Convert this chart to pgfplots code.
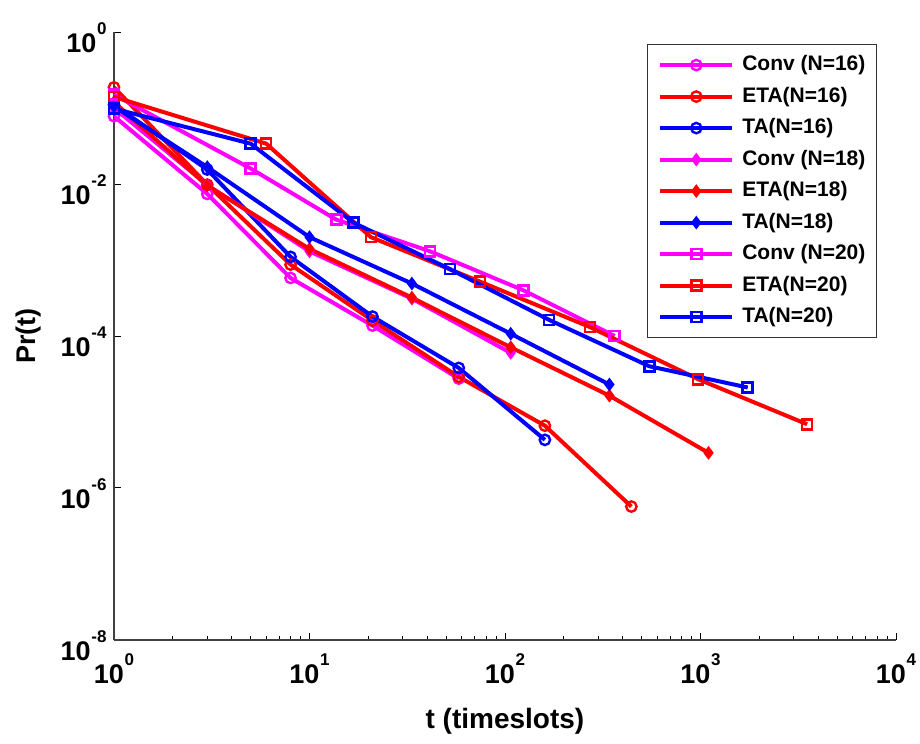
\documentclass[border=0pt]{standalone}
\usepackage{fontspec}
\setmainfont{Liberation Sans}
\usepackage{pgfplots}
\pgfplotsset{compat=1.18}
\definecolor{mmag}{rgb}{1,0,1}
\definecolor{mred}{rgb}{1,0,0}
\definecolor{mblue}{rgb}{0,0,1}
\newcommand{\tl}[1]{10\kern0.4pt\raisebox{9.3pt}{\fontsize{8.5}{8.5}\selectfont #1}}
\begin{document}
\begin{tikzpicture}
\begin{axis}[
  scale only axis, width=391pt, height=304pt,
  xmode=log, ymode=log,
  xmin=1, xmax=10000, ymin=1e-8, ymax=1,
  axis x line*=bottom, axis y line*=left,
  axis line style={-, line width=0.6pt, black!75},
  tick align=inside,
  xtick={1,10,100,1000,10000},
  xticklabels={\tl{0},\tl{1},\tl{2},\tl{3},\tl{4}},
  ytick={1e-8,1e-6,1e-4,1e-2,1},
  yticklabels={\tl{-8},\tl{-6},\tl{-4},\tl{-2},\tl{0}},
  yminorticks=false,
  tick label style={font=\bfseries\fontsize{13.5}{15}\selectfont},
  xticklabel style={inner sep=0pt, anchor=north, yshift=-6.5pt},
  yticklabel style={inner sep=0pt, anchor=east, xshift=-3.5pt, yshift=-2.9pt},
  major tick length=3.5pt, minor tick length=2pt,
  every tick/.style={black, line width=0.5pt},
  xlabel={t (timeslots)}, ylabel={Pr(t)},
  xlabel style={font=\bfseries\fontsize{14}{17}\selectfont, at={(axis description cs:0.5,-0.1332)}, anchor=center},
  ylabel style={font=\bfseries\fontsize{13.5}{16}\selectfont, at={(axis description cs:-0.1093,0.5)}, anchor=center},
  legend style={at={(rel axis cs:0.9757,0.9803)}, anchor=north east,
    font=\bfseries\fontsize{10.5}{12}\selectfont, draw=black!80, line width=0.6pt,
    inner sep=5.5pt, row sep=6.25pt, column sep=4pt,
    nodes={inner sep=0pt, text height=7.5pt, text depth=2pt},
    cells={anchor=west}},
  legend image code/.code={\draw[mark repeat=2,mark phase=2,#1] plot coordinates {(0pt,0pt) (18pt,0pt) (36pt,0pt)};},
  every axis plot/.append style={line width=2pt},
]
% Conv N=16
\addplot[mmag, mark=o, mark size=2.6pt, mark options={solid,line width=1.2pt}] coordinates {
(1,0.078) (3,0.0074) (8,5.8e-4) (21,1.37e-4) (58,2.75e-5)};
\addlegendentry{Conv (N=16)}
% ETA N=16
\addplot[mred, mark=o, mark size=2.6pt, mark options={solid,line width=1.2pt}] coordinates {
(1,0.187) (3,0.0098) (8,8.7e-4) (21,1.6e-4) (58,2.9e-5) (160,6.6e-6) (443,5.7e-7)};
\addlegendentry{ETA(N=16)}
% TA N=16
\addplot[mblue, mark=o, mark size=2.6pt, mark options={solid,line width=1.2pt}] coordinates {
(1,0.11) (3,0.0155) (8,1.1e-3) (21,1.8e-4) (58,3.8e-5) (160,4.3e-6)};
\addlegendentry{TA(N=16)}
% Conv N=18
\addplot[mmag, mark=diamond*, mark size=2.8pt, mark options={solid,line width=0.8pt}] coordinates {
(1,0.10) (3,0.0097) (10,1.3e-3) (33.4,3.1e-4) (107,6.0e-5)};
\addlegendentry{Conv (N=18)}
% ETA N=18
\addplot[mred, mark=diamond*, mark size=2.8pt, mark options={solid,line width=0.8pt}] coordinates {
(1,0.12) (3,0.0095) (10,1.4e-3) (33.4,3.2e-4) (107,7.1e-5) (342,1.64e-5) (1099,2.9e-6)};
\addlegendentry{ETA(N=18)}
% TA N=18
\addplot[mblue, mark=diamond*, mark size=2.8pt, mark options={solid,line width=0.8pt}] coordinates {
(1,0.105) (3,0.0167) (10,2.0e-3) (33.4,4.9e-4) (107,1.07e-4) (342,2.3e-5)};
\addlegendentry{TA(N=18)}
% Conv N=20
\addplot[mmag, mark=square, mark size=2.5pt, mark options={solid,line width=1.3pt}] coordinates {
(1,0.15) (5,0.016) (13.7,3.4e-3) (41.4,1.3e-3) (124,4.0e-4) (364,1.0e-4)};
\addlegendentry{Conv (N=20)}
% ETA N=20
\addplot[mred, mark=square, mark size=2.5pt, mark options={solid,line width=1.3pt}] coordinates {
(1,0.14) (6,0.034) (20.6,2.0e-3) (74.5,5.2e-4) (272,1.31e-4) (973,2.7e-5) (3510,6.9e-6)};
\addlegendentry{ETA(N=20)}
% TA N=20
\addplot[mblue, mark=square, mark size=2.5pt, mark options={solid,line width=1.3pt}] coordinates {
(1,0.098) (5,0.034) (16.8,3.1e-3) (52.2,7.6e-4) (168,1.63e-4) (547,4.0e-5) (1745,2.1e-5)};
\addlegendentry{TA(N=20)}
\coordinate (SW) at (rel axis cs:0,0);
\coordinate (NE) at (rel axis cs:1,1);
\end{axis}
\pgfresetboundingbox
\path[use as bounding box] ([shift={(-57pt,-52pt)}]SW) rectangle ([shift={(12pt,16pt)}]NE);
\end{tikzpicture}
\end{document}
